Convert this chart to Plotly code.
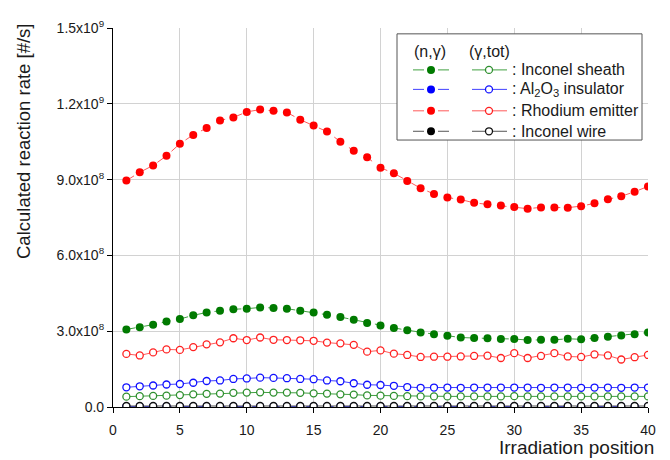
import plotly.graph_objects as go
import numpy as np

# ---------------- data ----------------
positions = list(range(1, 41))
scale = 1e8  # values below are in units of 1e8 #/s

rh_ng = [8.96, 9.29, 9.56, 9.94, 10.42, 10.77, 11.04, 11.34, 11.46, 11.68,
         11.77, 11.72, 11.66, 11.37, 11.14, 10.90, 10.50, 10.14, 9.88, 9.47,
         9.25, 8.94, 8.66, 8.43, 8.29, 8.21, 8.08, 8.02, 7.97, 7.92,
         7.85, 7.90, 7.90, 7.89, 7.95, 8.06, 8.22, 8.34, 8.52, 8.73]
sheath_ng = [3.07, 3.16, 3.26, 3.38, 3.48, 3.63, 3.74, 3.81, 3.87, 3.89,
             3.94, 3.92, 3.89, 3.81, 3.74, 3.65, 3.56, 3.45, 3.32, 3.23,
             3.13, 3.04, 2.95, 2.88, 2.82, 2.75, 2.73, 2.72, 2.69, 2.69,
             2.65, 2.66, 2.66, 2.70, 2.68, 2.73, 2.78, 2.83, 2.88, 2.95]
al_ng = [0.02] * 40
wire_ng = [0.01] * 40

rh_gt = [2.10, 2.04, 2.16, 2.28, 2.26, 2.37, 2.48, 2.56, 2.72, 2.65,
         2.75, 2.66, 2.65, 2.64, 2.62, 2.55, 2.52, 2.46, 2.19, 2.24,
         2.11, 2.06, 1.98, 1.99, 1.99, 2.00, 2.02, 2.03, 1.94, 2.13,
         1.94, 2.02, 2.13, 2.00, 1.98, 2.08, 2.04, 1.88, 1.97, 2.06]
al_gt = [0.78, 0.82, 0.85, 0.89, 0.91, 0.96, 1.03, 1.05, 1.11, 1.13,
         1.16, 1.15, 1.14, 1.11, 1.10, 1.05, 1.02, 0.94, 0.88, 0.87,
         0.84, 0.79, 0.76, 0.77, 0.77, 0.76, 0.77, 0.77, 0.77, 0.77,
         0.77, 0.76, 0.77, 0.77, 0.76, 0.77, 0.77, 0.76, 0.77, 0.77]
sheath_gt = [0.41, 0.43, 0.44, 0.45, 0.47, 0.50, 0.52, 0.53, 0.56, 0.57,
             0.58, 0.57, 0.57, 0.56, 0.54, 0.53, 0.50, 0.49, 0.46, 0.45,
             0.44, 0.43, 0.42, 0.42, 0.42, 0.42, 0.42, 0.42, 0.42, 0.43,
             0.42, 0.42, 0.42, 0.42, 0.42, 0.42, 0.42, 0.42, 0.42, 0.42]
wire_gt = [0.04] * 40

ytick_vals = [0, 3e8, 6e8, 9e8, 1.2e9, 1.5e9]
ytick_text = ["0.0", "3.0x10<sup>8</sup>", "6.0x10<sup>8</sup>", "9.0x10<sup>8</sup>",
              "1.2x10<sup>9</sup>", "1.5x10<sup>9</sup>"]
xtick_vals = [0, 5, 10, 15, 20, 25, 30, 35, 40]

legend_labels = [": Inconel sheath", ": Al<sub>2</sub>O<sub>3</sub> insulator",
                 ": Rhodium emitter", ": Inconel wire"]

# ---------------- styles ----------------
FONT = "Liberation Sans, Arial, sans-serif"
TXT = "#1a1a1a"
styles = {
    "sheath": dict(mk="#007a00", ln="#40a040", op="#2e8f2e"),
    "al": dict(mk="#0000ff", ln="#4040ff", op="#1010ff"),
    "rh": dict(mk="#ff0000", ln="#ff5a5a", op="#ff2020"),
    "wire": dict(mk="#000000", ln="#555555", op="#111111"),
}

fig = go.Figure()

def add_ng(vals, key):
    s = styles[key]
    fig.add_trace(go.Scatter(
        x=positions, y=np.array(vals) * scale, mode="lines+markers",
        line=dict(color=s["ln"], width=1, dash="dash"),
        marker=dict(symbol="circle", size=8, color=s["mk"], line=dict(width=0)),
        showlegend=False, hoverinfo="x+y"))

def add_gt(vals, key):
    s = styles[key]
    fig.add_trace(go.Scatter(
        x=positions, y=np.array(vals) * scale, mode="lines+markers",
        line=dict(color=s["ln"], width=1),
        marker=dict(symbol="circle", size=7, color="white", line=dict(width=1.3, color=s["op"])),
        showlegend=False, hoverinfo="x+y"))

add_ng(wire_ng, "wire")
add_ng(al_ng, "al")
add_ng(sheath_ng, "sheath")
add_ng(rh_ng, "rh")
add_gt(sheath_gt, "sheath")
add_gt(al_gt, "al")
add_gt(rh_gt, "rh")
add_gt(wire_gt, "wire")

# ---------------- layout ----------------
# page has an 8px body margin, so the figure starts at (8, 8) in the window
OFF = 8
W, H = 670 - OFF, 460 - OFF
L, R, T, B = 113, 648, 18, 407   # plot area in window pixels

def px(xp):
    return (xp - L) / (R - L)

def py(yp):
    return (B - yp) / (B - T)

fig.update_layout(
    width=W, height=H,
    margin=dict(l=L - OFF, r=W - (R - OFF), t=T - OFF, b=H - (B - OFF), pad=0),
    paper_bgcolor="white", plot_bgcolor="white",
    font=dict(family=FONT, size=13, color=TXT),
    showlegend=False,
    xaxis=dict(range=[0, 40], tickvals=xtick_vals, ticks="outside", ticklen=5,
               tickcolor="black", showline=True, linecolor="black", linewidth=1.2,
               showgrid=True, gridcolor="#d2d2d2", gridwidth=1, zeroline=False,
               ticklabelstandoff=5,
               tickfont=dict(size=14, family=FONT, color=TXT)),
    yaxis=dict(range=[0, 1.5e9], tickvals=ytick_vals, ticktext=ytick_text,
               ticks="outside", ticklen=5, tickcolor="black", showline=True,
               linecolor="black", linewidth=1.2, showgrid=True, gridcolor="#d2d2d2",
               gridwidth=1, zeroline=False,
               tickfont=dict(size=14, family=FONT, color=TXT)),
)

annotations = [
    dict(text="Irradiation position", xref="paper", yref="paper", x=px(656), y=py(449),
         xanchor="right", yanchor="middle", showarrow=False,
         font=dict(size=19, family=FONT, color=TXT)),
    dict(text="Calculated reaction rate [#/s]", xref="paper", yref="paper",
         x=px(23), y=py(134), xanchor="center", yanchor="middle", textangle=-90,
         showarrow=False, font=dict(size=18.5, family=FONT, color=TXT)),
]

shapes = []
# legend box
shapes.append(dict(type="rect", xref="paper", yref="paper", layer="above",
                   x0=px(397), x1=px(642), y0=py(133), y1=py(24),
                   line=dict(color="#555555", width=1), fillcolor="white"))
annotations.append(dict(text="(n,γ)", xref="paper", yref="paper", x=px(412), y=py(42),
                        xanchor="left", yanchor="middle", showarrow=False,
                        font=dict(size=16, family=FONT, color=TXT)))
annotations.append(dict(text="(γ,tot)", xref="paper", yref="paper", x=px(467), y=py(42),
                        xanchor="left", yanchor="middle", showarrow=False,
                        font=dict(size=16, family=FONT, color=TXT)))

row_y = [61, 81, 103, 124]
keys = ["sheath", "al", "rh", "wire"]
for yp, key, lab in zip(row_y, keys, legend_labels):
    s = styles[key]
    yy = py(yp)
    # (n,g): dashed segments with filled marker
    shapes.append(dict(type="line", xref="paper", yref="paper", layer="above",
                       x0=px(413), x1=px(424), y0=yy, y1=yy, line=dict(color=s["ln"], width=1)))
    shapes.append(dict(type="line", xref="paper", yref="paper", layer="above",
                       x0=px(438), x1=px(449), y0=yy, y1=yy, line=dict(color=s["ln"], width=1)))
    shapes.append(dict(type="circle", xref="paper", yref="paper", layer="above",
                       xsizemode="pixel", ysizemode="pixel", xanchor=px(431), yanchor=yy,
                       x0=-4, x1=4, y0=-4, y1=4, fillcolor=s["mk"], line=dict(width=0)))
    # (g,tot): solid line with open marker
    shapes.append(dict(type="line", xref="paper", yref="paper", layer="above",
                       x0=px(472), x1=px(507), y0=yy, y1=yy, line=dict(color=s["ln"], width=1)))
    shapes.append(dict(type="circle", xref="paper", yref="paper", layer="above",
                       xsizemode="pixel", ysizemode="pixel", xanchor=px(489), yanchor=yy,
                       x0=-3.5, x1=3.5, y0=-3.5, y1=3.5, fillcolor="white",
                       line=dict(width=1.3, color=s["op"])))
    annotations.append(dict(text=lab, xref="paper", yref="paper", x=px(510), y=yy,
                            xanchor="left", yanchor="middle", showarrow=False,
                            font=dict(size=16, family=FONT, color=TXT)))

fig.update_layout(shapes=shapes, annotations=annotations)
fig.write_html("out.html")
